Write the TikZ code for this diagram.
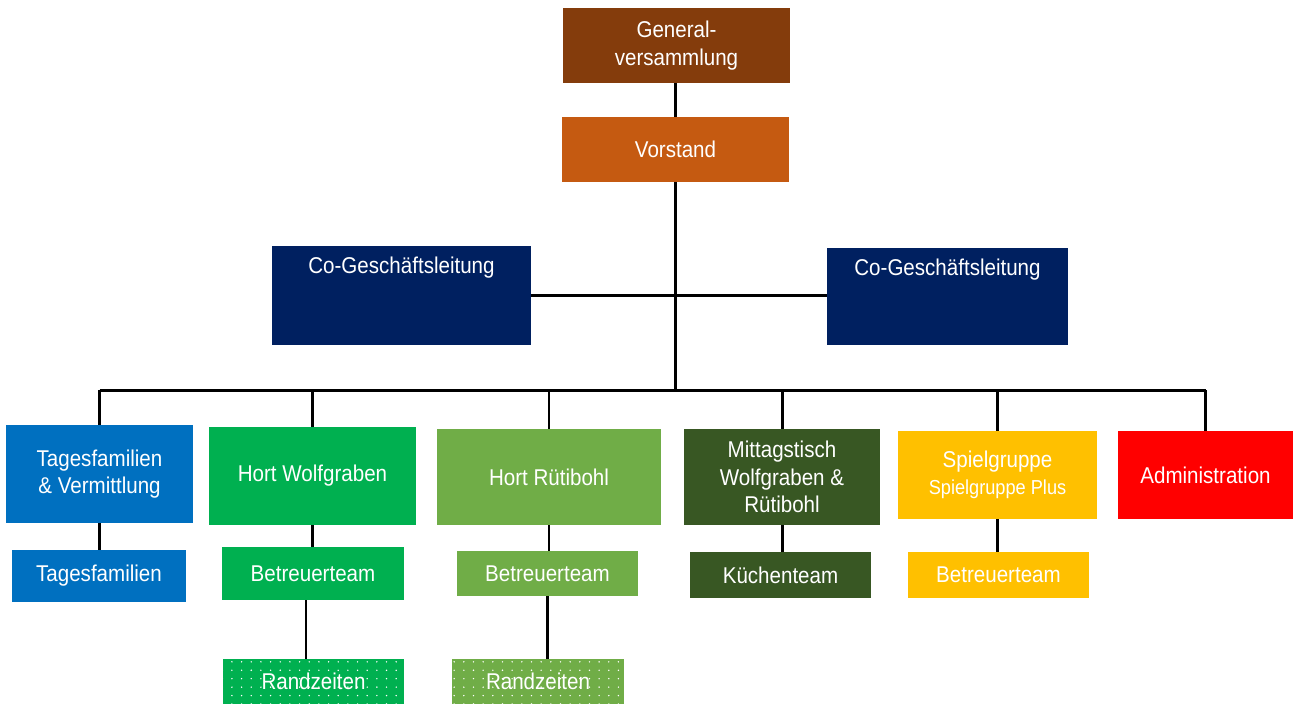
\documentclass[tikz,border=0pt]{standalone}
\usepackage{fontspec}
\setmainfont{Liberation Sans}[FakeStretch=0.9]
\usetikzlibrary{patterns.meta}
\definecolor{gvbrown}{HTML}{843C0C}
\definecolor{vsorange}{HTML}{C55A11}
\definecolor{glnavy}{HTML}{002060}
\definecolor{tfblue}{HTML}{0070C0}
\definecolor{hwgreen}{HTML}{00B050}
\definecolor{hrgreen}{HTML}{70AD47}
\definecolor{mtgreen}{HTML}{385723}
\definecolor{sgyellow}{HTML}{FFC000}
\definecolor{admred}{HTML}{FF0000}
\tikzdeclarepattern{
  name=sparsedots,
  type=uncolored,
  bottom left={(-1pt,-1pt)},
  top right={(4.5pt,3.8pt)},
  tile size={(5.5pt,4.8pt)},
  code={\fill (0,0) circle (0.45pt);}
}
\begin{document}
\begin{tikzpicture}[x=0.02cm, y=-0.02cm,
  box/.style={fill=#1, text=white, align=center, inner sep=2pt,
    font=\fontsize{13}{15.5}\selectfont},
  dotbox/.style={box=#1, postaction={pattern=sparsedots, pattern color=white}},
  link/.style={line width=1.7pt}]

\useasboundingbox (0,0) rectangle (1295,704);

\node[box=gvbrown, minimum width=4.54cm, minimum height=1.5cm] (gv) at (676.5,45.5) {General-\\versammlung};
\node[box=vsorange, minimum width=4.54cm, minimum height=1.3cm] (vs) at (675.5,149.5) {Vorstand};

\node[box=glnavy, minimum width=5.18cm, minimum height=1.98cm,
  label={[text=white, anchor=north, yshift=-3pt, font=\fontsize{13}{15.5}\selectfont]north:Co-Geschäftsleitung}] (gl1) at (401.5,295.5) {};
\node[box=glnavy, minimum width=4.82cm, minimum height=1.94cm,
  label={[text=white, anchor=north, yshift=-3pt, font=\fontsize{13}{15.5}\selectfont]north:Co-Geschäftsleitung}] (gl2) at (947.5,296.5) {};

\node[box=tfblue, minimum width=3.74cm, minimum height=1.96cm] (tf) at (99.5,474) {Tagesfamilien\\\& Vermittlung};
\node[box=hwgreen, minimum width=4.14cm, minimum height=1.96cm] (hw) at (312.5,476) {Hort Wolfgraben};
\node[box=hrgreen, minimum width=4.48cm, minimum height=1.92cm] (hr) at (549,477) {Hort Rütibohl};
\node[box=mtgreen, minimum width=3.92cm, minimum height=1.92cm] (mt) at (782,477) {Mittagstisch\\Wolfgraben \&\\Rütibohl};
\node[box=sgyellow, minimum width=3.98cm, minimum height=1.76cm] (sg) at (997.5,475) {Spielgruppe\\{\fontsize{11.5}{14}\selectfont Spielgruppe Plus}};
\node[box=admred, minimum width=3.5cm, minimum height=1.76cm] (adm) at (1205.5,475) {Administration};

\node[box=tfblue, minimum width=3.48cm, minimum height=1.04cm] (tf2) at (99,576) {Tagesfamilien};
\node[box=hwgreen, minimum width=3.64cm, minimum height=1.06cm] (hw2) at (313,573.5) {Betreuerteam};
\node[box=hrgreen, minimum width=3.62cm, minimum height=0.9cm] (hr2) at (547.5,573.5) {Betreuerteam};
\node[box=mtgreen, minimum width=3.62cm, minimum height=0.92cm] (mt2) at (780.5,575) {Küchenteam};
\node[box=sgyellow, minimum width=3.62cm, minimum height=0.92cm] (sg2) at (998.5,575) {Betreuerteam};

\node[dotbox=hwgreen, minimum width=3.62cm, minimum height=0.9cm] (hw3) at (313.5,681.5) {Randzeiten};
\node[dotbox=hrgreen, minimum width=3.44cm, minimum height=0.9cm] (hr3) at (538,681.5) {Randzeiten};

\coordinate (bus) at (675.5,390);

\draw[link] (vs.north) -- (vs.north |- gv.south);
\draw[link] (vs.south) -- (vs.south |- bus);
\draw[link] (gl1.east) -- (gl1.east -| gl2.west);
\draw[link] (tf.north |- bus) -- (adm.north |- bus);
\foreach \n in {tf,hw,hr,mt,sg,adm}
  \draw[link] (\n.north) -- (\n.north |- bus);
\foreach \n in {tf,hw,hr,mt,sg}
  \draw[link] (\n.south) -- (\n.south |- \n2.north);
\draw[link] ([xshift=-0.14cm]hw2.south) -- ([xshift=-0.14cm]hw2.south |- hw3.north);
\draw[link] (hr2.south) -- (hr2.south |- hr3.north);

\end{tikzpicture}
\end{document}
